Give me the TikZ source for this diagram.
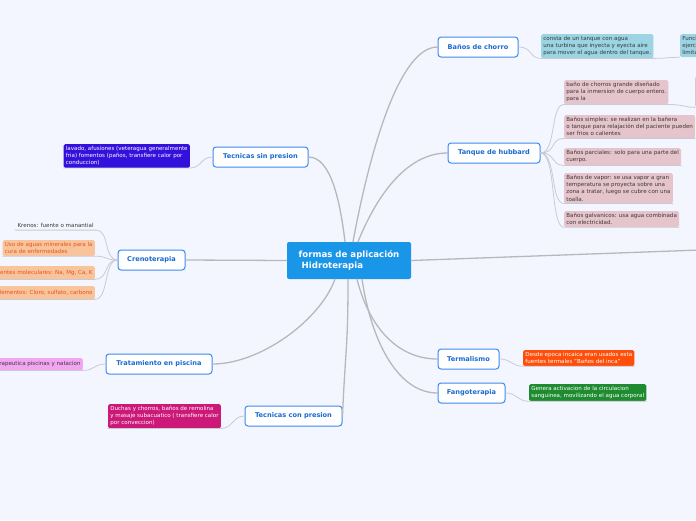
\documentclass[tikz,border=0pt]{standalone}
\usepackage{fontspec}
\setmainfont{DejaVu Sans}

\definecolor{bgblue}{HTML}{F3F6FE}
\definecolor{hydroblue}{HTML}{1A96E8}
\definecolor{topicline}{HTML}{3D8AF0}
\definecolor{topictext}{HTML}{1A6AD0}
\definecolor{linegray}{HTML}{B8B8BC}
\definecolor{twiggray}{HTML}{C8CBD2}
\definecolor{subtext}{HTML}{3A3A3A}
\definecolor{tealbox}{HTML}{9BD4E2}
\definecolor{pinkbox}{HTML}{E6C4CB}
\definecolor{purplebox}{HTML}{3410DC}
\definecolor{orangebox}{HTML}{F9C49B}
\definecolor{orangetext}{HTML}{E3561E}
\definecolor{lilacbox}{HTML}{F2A6F2}
\definecolor{magentabox}{HTML}{CC1878}
\definecolor{redbox}{HTML}{FF4E0A}
\definecolor{greenbox}{HTML}{1E8B30}

\begin{document}
\begin{tikzpicture}[x=1pt,y=-1pt,line cap=round,
  centre/.style={fill=hydroblue,rounded corners=2pt,text=white,align=left,
    font=\bfseries\fontsize{8.6}{10.5}\selectfont,minimum width=124pt,minimum height=37pt},
  topic/.style={draw=topicline,line width=1pt,fill=white,rounded corners=3pt,
    text=topictext,font=\bfseries\fontsize{6.6}{7.5}\selectfont,minimum height=20pt,inner sep=2pt},
  sub/.style={rounded corners=1.5pt,align=left,anchor=north west,inner sep=2.2pt,
    text=subtext,font=\fontsize{5.55}{7.1}\selectfont},
  main/.style={draw=linegray,line width=1.3pt},
  twig/.style={draw=twiggray,line width=0.8pt}]
  \useasboundingbox (0,0) rectangle (696,520);
  \clip (0,0) rectangle (696,520);
  \fill[bgblue] (0,0) rectangle (696,520);

  % centre and topics
  \node[centre] (hydro) at (349,260.5) {formas de aplicación\\\ Hidroterapia};
  \node[topic,minimum width=80pt] (chorro) at (478,47) {Baños de chorro};
  \node[topic,minimum width=92pt] (hubbard) at (494,153) {Tanque de hubbard};
  \node[topic,minimum width=95pt] (sinpres) at (260.5,157) {Tecnicas sin presion};
  \node[topic,minimum width=67pt] (creno) at (151.5,260) {Crenoterapia};
  \node[topic,minimum width=106pt] (piscina) at (159,364) {Tratamiento en piscina};
  \node[topic,minimum width=97pt] (conpres) at (293.5,416) {Tecnicas con presion};
  \node[topic,minimum width=61pt] (termal) at (468.5,359) {Termalismo};
  \node[topic,minimum width=67pt] (fango) at (471.5,393) {Fangoterapia};
  \coordinate (offright) at (700,250);

  % details
  \node[sub,fill=tealbox] (turbina) at (541,34) {consta de un tanque con agua\\una turbina que inyecta y eyecta aire\\para mover el agua dentro del tanque.};
  \node[sub,fill=tealbox] (funcion) at (680,34) {Funcionamiento\\ejercicios\\limitados};
  \node[sub,fill=pinkbox] (inmersion) at (564,80) {baño de chorros grande diseñado\\para la inmersion de cuerpo entero.\\para la};
  \node[sub,fill=pinkbox,minimum width=40pt,minimum height=31pt] (cortado) at (695,76) {};
  \node[sub,fill=pinkbox] (simples) at (564,115) {Baños simples: se realizan en la bañera\\o tanque para relajación del paciente pueden\\ser frios o calientes};
  \node[sub,fill=pinkbox] (parciales) at (564,148) {Baños parciales: solo para una parte del\\cuerpo.};
  \node[sub,fill=pinkbox] (vapor) at (564,173) {Baños de vapor: se usa vapor a gran\\temperatura se proyecta sobre una\\zona a tratar, luego se cubre con una\\toalla.};
  \node[sub,fill=pinkbox] (galvan) at (564,211) {Baños galvanicos: usa agua combinada\\con electricidad.};
  \node[sub,fill=purplebox,text=white,anchor=north east] (afusion) at (190,144) {lavado, afusiones (veteragua generalmente\\fria) fomentos (paños, transfiere calor por\\conduccion)};
  \node[sub,anchor=north east] (krenos) at (96,221) {Krenos: fuente o manantial};
  \node[sub,fill=orangebox,text=orangetext,anchor=north east] (usoaguas) at (95,240) {Uso de aguas minerales para la\\cura de enfermedades};
  \node[sub,fill=orangebox,text=orangetext,anchor=north east,minimum height=13pt] (molecular) at (95,266) {Componentes moleculares: Na, Mg, Ca, K};
  \node[sub,fill=orangebox,text=orangetext,anchor=north east,minimum height=13pt] (elementos) at (95,286) {Elementos: Cloro, sulfato, carbono};
  \node[sub,fill=lilacbox,anchor=north east,minimum height=12pt] (natacion) at (83,358) {Terapeutica piscinas y natacion};
  \node[sub,fill=magentabox,text=white,anchor=north east] (duchas) at (221,404) {Duchas y chorros, baños de remolina\\y masaje subacuatico ( transfiere calor\\por conveccion)};
  \node[sub,fill=redbox,text=white] (inca) at (523,350) {Desde epoca incaica eran usados esta\\fuentes termales "Baños del inca"};
  \node[sub,fill=greenbox,text=white] (circula) at (529,384) {Genera activacion de la circulacion\\sanguinea, movilizando el agua corporal};

  % main branches
  \draw[main] ([xshift=4pt]hydro.north) .. controls +(17,-92) and +(-38,0) .. (chorro.west);
  \draw[main] ([xshift=9pt]hydro.north) .. controls +(17,-42) and +(-43,0) .. (hubbard.west);
  \draw[main] ([xshift=-4pt]hydro.north) .. controls +(-5,-42) and +(22,0) .. (sinpres.east);
  \draw[main] (hydro.west) -- (creno.east);
  \draw[main] ([xshift=-14pt]hydro.south) .. controls +(-15,41) and +(48,0) .. (piscina.east);
  \draw[main] ([xshift=-1pt]hydro.south) .. controls +(0,70) and +(3,-70) .. (conpres.east);
  \draw[main] ([xshift=8pt]hydro.south) .. controls +(13,51) and +(-38,0) .. (termal.west);
  \draw[main] ([xshift=13pt]hydro.south) .. controls +(10,66) and +(-38,0) .. (fango.west);
  \draw[main] (hydro.east) -- (offright);

  % twigs
  \draw[twig] (chorro.east) .. controls +(14,0) and +(-12,0) .. (turbina.south west) -- (turbina.south east)
    .. controls +(12,0) and +(-12,0) .. (funcion.south west);
  \foreach \leaf in {inmersion,simples,parciales,vapor,galvan}
    \draw[twig] (hubbard.east) .. controls +(16,0) and +(-14,0) .. (\leaf.south west) -- (\leaf.south east);
  \draw[twig] (inmersion.south east) .. controls +(14,0) and +(-10,0) .. (cortado.south west);
  \draw[twig] (sinpres.west) .. controls +(-12,0) and +(12,0) .. (afusion.south east) -- (afusion.south west);
  \foreach \leaf in {krenos,usoaguas,molecular,elementos}
    \draw[twig] (creno.west) .. controls +(-14,0) and +(14,0) .. (\leaf.south east) -- (\leaf.south west);
  \draw[twig] (piscina.west) .. controls +(-12,0) and +(12,0) .. (natacion.south east) -- (natacion.south west);
  \draw[twig] (conpres.west) .. controls +(-12,0) and +(12,0) .. (duchas.south east) -- (duchas.south west);
  \draw[twig] (termal.east) .. controls +(12,0) and +(-12,0) .. (inca.south west) -- (inca.south east);
  \draw[twig] (fango.east) .. controls +(12,0) and +(-12,0) .. (circula.south west) -- (circula.south east);
\end{tikzpicture}
\end{document}
